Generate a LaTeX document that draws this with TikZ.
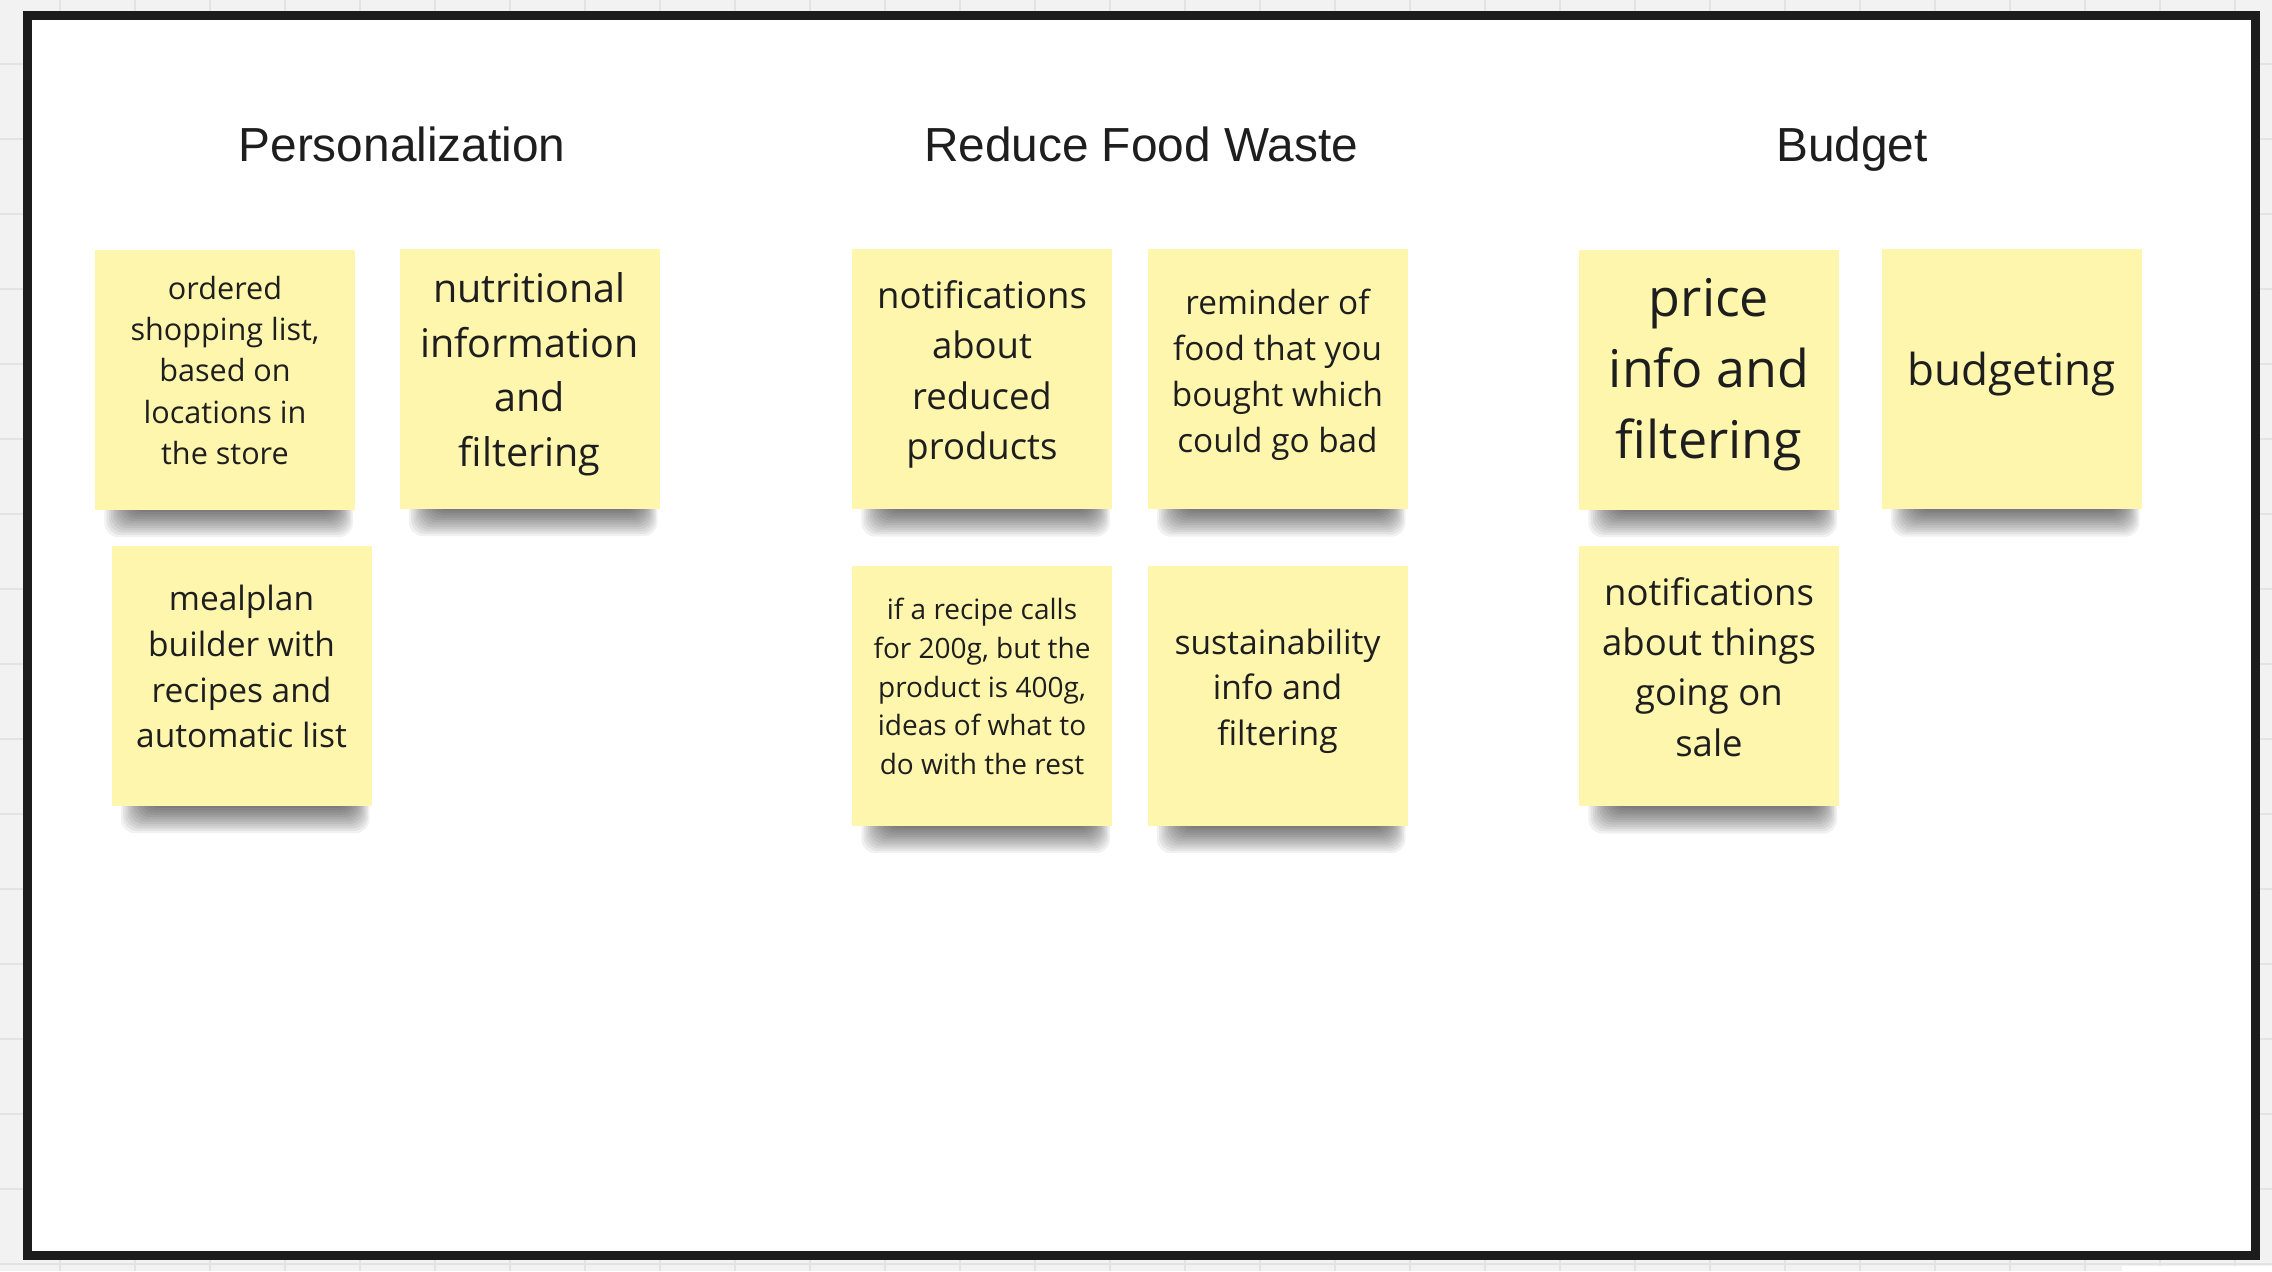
\documentclass[tikz,border=0pt]{standalone}
\usepackage{fontspec}
\setmainfont{Open Sans}
\newfontfamily\headfont{Liberation Sans}
\usetikzlibrary{calc}
\pgfdeclarelayer{bglayer}
\pgfdeclarelayer{shlayer}
\pgfsetlayers{bglayer,shlayer,main}
\definecolor{canvas}{HTML}{F2F2F2}
\definecolor{gridc}{HTML}{E3E3E3}
\definecolor{framec}{HTML}{1C1C1C}
\definecolor{stickyc}{HTML}{FFF6AE}
\definecolor{inkc}{HTML}{1E1E1E}
\newcommand\notesh[1]{%
  \foreach \k in {0,...,11}{%
    \fill[black, opacity=0.055, rounded corners=7pt]
      ($(#1.south west)+(34-2.2*\k,-30)$) rectangle ($(#1.south east)+(-20+1.6*\k,2+2.3*\k)$);
  }}
\begin{document}
\begin{tikzpicture}[x=0.5pt,y=-0.5pt,
  stickynote/.style={fill=stickyc, draw=none, minimum width=130pt, minimum height=130pt, inner sep=0pt},
  notetext/.style={align=center, text=inkc, inner sep=0pt},
  heading/.style={font=\headfont\fontsize{23.9pt}{28pt}\selectfont, text=inkc, anchor=base, inner sep=0pt},
  gridline/.style={draw=gridc, line width=0.6pt}]
\useasboundingbox (0,0) rectangle (2272,1271);
\begin{pgfonlayer}{bglayer}
  \fill[canvas] (0,0) rectangle (2272,1271);
  \foreach \gx in {60,135,...,2272} \draw[gridline] (\gx,0) -- (\gx,1271);
  \foreach \gy in {64,139,...,1271} \draw[gridline] (0,\gy) -- (2272,\gy);
  \fill[white] (2122,1266) rectangle (2272,1271);
  \draw[framec, fill=white, line width=4.5pt] (27.5,15.5) rectangle (2255,1255.5);
\end{pgfonlayer}

% headings
\node[heading] (h1) at (402,161) {Personalization};
\node[heading] (h2) at (1141,161) {Reduce Food Waste};
\node[heading] (h3) at (1852,161) {Budget};

% notes
\node[stickynote] (n1) at (225,379.5) {};
\node[stickynote] (n2) at (529.5,378.5) {};
\node[stickynote] (n3) at (241.5,675.5) {};
\node[stickynote] (n4) at (982,379) {};
\node[stickynote] (n5) at (1277.5,379) {};
\node[stickynote] (n6) at (982,695.5) {};
\node[stickynote] (n7) at (1277.5,695.5) {};
\node[stickynote] (n8) at (1709,379.5) {};
\node[stickynote] (n9) at (2011.5,379) {};
\node[stickynote] (n10) at (1709,676) {};

\begin{pgfonlayer}{shlayer}
  \foreach \nn in {n1,n2,n3,n4,n5,n6,n7,n8,n9,n10} {\notesh{\nn}}
\end{pgfonlayer}

% texts
\node[notetext, font=\fontsize{15.3pt}{20.65pt}\selectfont] (t1) at ($(n1.center)+(0,-9)$)
  {ordered\\shopping list,\\based on\\locations in\\the store};
\node[notetext, font=\fontsize{19.75pt}{27.25pt}\selectfont] (t2) at ($(n2.center)+(0,-4.5)$)
  {nutritional\\information\\and\\filtering};
\node[notetext, font=\fontsize{16.75pt}{22.95pt}\selectfont] (t3) at ($(n3.center)+(0,-9)$)
  {mealplan\\builder with\\recipes and\\automatic list};
\node[notetext, font=\fontsize{18.25pt}{25.1pt}\selectfont] (t4) at ($(n4.center)+(0,-4.5)$)
  {notifications\\about\\reduced\\products};
\node[notetext, font=\fontsize{16.65pt}{22.95pt}\selectfont] (t5) at ($(n5.center)+(0,-4.5)$)
  {reminder of\\food that you\\bought which\\could go bad};
\node[notetext, font=\fontsize{14pt}{19.4pt}\selectfont] (t6) at ($(n6.center)+(0,-9)$)
  {if a recipe calls\\for 200g, but the\\product is 400g,\\ideas of what to\\do with the rest};
\node[notetext, font=\fontsize{16.8pt}{22.8pt}\selectfont] (t7) at ($(n7.center)+(0,-4.5)$)
  {sustainability\\info and\\filtering};
\node[notetext, font=\fontsize{26pt}{35.5pt}\selectfont] (t8) at ($(n8.center)+(0,-4.5)$)
  {price\\info and\\filtering};
\node[notetext, font=\fontsize{22pt}{30pt}\selectfont] (t9) at ($(n9.center)+(0,-4.5)$)
  {budgeting};
\node[notetext, font=\fontsize{18.25pt}{25.1pt}\selectfont] (t10) at ($(n10.center)+(0,-9)$)
  {notifications\\about things\\going on\\sale};
\end{tikzpicture}
\end{document}
